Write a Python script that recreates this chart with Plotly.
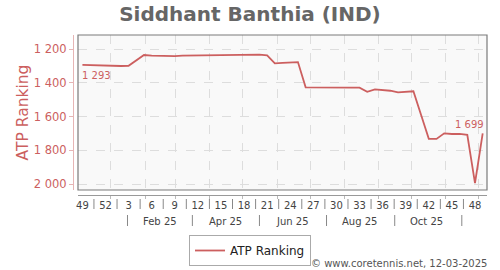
import pandas as pd
import plotly.graph_objects as go

# ---- data ----
start_date = "2024-12-06"
atp_ranking = [1293, 1294, 1299, 1300, 1300, 1299, 1298, 1266, 1234, 1238,
               1240, 1241, 1240, 1238, 1237, 1236, 1235, 1236, 1237, 1234,
               1231, 1230, 1230, 1232, 1236, 1283, 1281, 1279, 1276, 1426,
               1427, 1427, 1428, 1428, 1428, 1428, 1428, 1452, 1438, 1442,
               1446, 1456, 1453, 1449, 1590, 1732, 1732, 1699, 1703, 1702,
               1708, 1995, 1699]
week_labels = ["49", "52", "3", "6", "9", "12", "15", "18", "21", "24", "27",
               "30", "33", "36", "39", "42", "45", "48"]
month_labels = ["Feb 25", "Apr 25", "Jun 25", "Aug 25", "Oct 25"]
month_label_months = [2, 4, 6, 8, 10]
month_sep_months = [1, 3, 5, 7, 9, 11]
y_ticks = [1200, 1400, 1600, 1800, 2000]

dates = pd.date_range(start_date, periods=len(atp_ranking), freq="7D")
label_dates = [dates[i] for i in range(0, 3 * len(week_labels), 3)]
sep_dates = [d + pd.Timedelta(days=10.5) for d in label_dates[:-1]]

RED = "#cc5f5f"
PINK = "#e6b5b5"
W, H = 500, 270
ML, MR, MT, MB = 73, 13, 35, 75
PW, PH = W - ML - MR, H - MT - MB

def fmt(v):
    return f"{v:,}".replace(",", " ")

fig = go.Figure()
fig.add_trace(go.Scatter(
    x=dates, y=atp_ranking, mode="lines", name="ATP Ranking",
    line=dict(color=RED, width=1.8),
))

shapes = []
# plot frame
shapes.append(dict(type="rect", xref="x domain", yref="y domain", x0=0, x1=1, y0=0, y1=1,
                   line=dict(color="#7a7a7a", width=1.2), fillcolor="rgba(0,0,0,0)", layer="above"))
# week label separators
for d in sep_dates:
    shapes.append(dict(type="line", xref="x", yref="paper", x0=d, x1=d,
                       y0=-4 / PH, y1=-14 / PH, line=dict(color="#888", width=1)))
# month band separators
for m in month_sep_months:
    d = pd.Timestamp(2025, m, 16)
    shapes.append(dict(type="line", xref="x", yref="paper", x0=d, x1=d,
                       y0=-20 / PH, y1=-31 / PH, line=dict(color="#888", width=1)))

annotations = []
for lab, m in zip(month_labels, month_label_months):
    annotations.append(dict(x=pd.Timestamp(2025, m, 15), y=-26.5 / PH, xref="x", yref="paper",
                            text=lab, showarrow=False, yanchor="middle",
                            font=dict(family="DejaVu Sans", size=10, color="#444")))
annotations.append(dict(x=dates[0], y=atp_ranking[0], xref="x", yref="y", text=fmt(atp_ranking[0]),
                        showarrow=False, xanchor="left", yanchor="top", yshift=-3, xshift=-2,
                        font=dict(family="DejaVu Sans", size=10, color=RED)))
annotations.append(dict(x=dates[-1], y=atp_ranking[-1], xref="x", yref="y", text=fmt(atp_ranking[-1]),
                        showarrow=False, xanchor="right", yanchor="bottom", yshift=1, xshift=3,
                        font=dict(family="DejaVu Sans", size=10, color=RED)))
annotations.append(dict(x=1, y=-68 / PH, xref="paper", yref="paper",
                        text="© www.coretennis.net, 12-03-2025", showarrow=False,
                        xanchor="right", yanchor="middle", xshift=2,
                        font=dict(family="DejaVu Sans", size=10, color="#555")))

fig.update_layout(
    width=W, height=H, autosize=False,
    margin=dict(l=ML, r=MR, t=MT, b=MB, pad=0, autoexpand=False),
    paper_bgcolor="white", plot_bgcolor="#f9f9f9",
    separators=". ",
    font=dict(family="DejaVu Sans"),
    title=dict(text="<b>Siddhant Banthia (IND)</b>", x=0.5, xref="container", xanchor="center",
               y=1 - 14 / H, yref="container", yanchor="middle",
               font=dict(family="DejaVu Sans", size=20, color="#666")),
    xaxis=dict(
        type="date", domain=[5 / PW, 1], anchor="free", position=0,
        range=["2024-12-02", "2025-12-08 22:00"], automargin=False,
        tickmode="array", tickvals=label_dates, ticktext=week_labels,
        ticks="", showgrid=False, zeroline=False,
        showline=True, linecolor="#999", linewidth=1,
        ticklabelstandoff=1,
        tickfont=dict(family="DejaVu Sans", size=10, color="#444"),
        minor=dict(tickmode="linear", tick0="2025-01-01", dtick="M1",
                   showgrid=True, griddash="dash", gridcolor="#dddddd", gridwidth=1,
                   ticks="outside", ticklen=3, tickcolor="#bbb"),
    ),
    yaxis=dict(
        domain=[5 / PH, 1], anchor="free", position=0, side="left", automargin=False,
        range=[2035.6, 1115], tickmode="array", tickvals=y_ticks,
        separatethousands=True,
        showgrid=True, griddash="dash", gridcolor="#dddddd", gridwidth=1, zeroline=False,
        showline=True, linecolor=PINK, linewidth=1,
        ticks="outside", ticklen=4, tickcolor=PINK,
        tickfont=dict(family="DejaVu Sans", size=11.5, color=RED),
        title=dict(text="ATP Ranking", standoff=0,
                   font=dict(family="DejaVu Sans", size=15.5, color=RED)),
    ),
    showlegend=True,
    legend=dict(orientation="h", x=(250 - ML) / PW, xanchor="center",
                y=-40 / PH, yanchor="top", bgcolor="white",
                bordercolor="#aaa", borderwidth=1,
                font=dict(family="DejaVu Sans", size=12, color="#222")),
    shapes=shapes, annotations=annotations,
)

fig.write_html("out.html")
